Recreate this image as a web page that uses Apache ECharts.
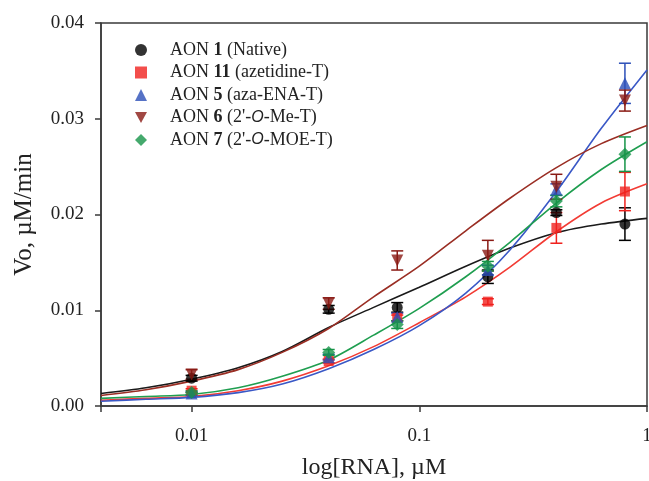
<!DOCTYPE html>
<html>
<head>
<meta charset="utf-8">
<script src="https://cdn.jsdelivr.net/npm/echarts@6/dist/echarts.min.js"></script>
<style>
  html, body { margin: 0; padding: 0; background: #fff; }
  #chart { width: 649px; height: 481px; }
</style>
</head>
<body>
<div id="chart"></div>
<script>
// measured concentrations (uM) and initial velocities (uM/min)
const concentrations = [0.01, 0.04, 0.08, 0.2, 0.4, 0.8];
const aon1 = [0.0029, 0.0101, 0.0103, 0.0135, 0.0202, 0.0190];
const aon1Err = [0.0003, 0.0004, 0.0005, 0.0007, 0.0003, 0.0017];
const aon11 = [0.0016, 0.0047, 0.0092, 0.0109, 0.0186, 0.0224];
const aon11Err = [0.0002, 0.0002, 0.0003, 0.0003, 0.0016, 0.0020];
const aon5 = [0.0013, 0.0051, 0.0093, 0.0142, 0.0226, 0.0337];
const aon5Err = [0.0002, 0.0003, 0.0004, 0.0005, 0.0006, 0.0021];
const aon6 = [0.0033, 0.0107, 0.0152, 0.0157, 0.0229, 0.0319];
const aon6Err = [0.0005, 0.0006, 0.0010, 0.0016, 0.0013, 0.0011];
const aon7 = [0.0014, 0.0056, 0.0085, 0.0146, 0.0214, 0.0263];
const aon7Err = [0.0002, 0.0003, 0.0004, 0.0005, 0.0006, 0.0018];

// fitted curves at 0.2-decade steps
const curveX = [0.004, 0.0063, 0.01, 0.016, 0.025, 0.04, 0.063, 0.1, 0.16, 0.25, 0.4, 0.63, 1];
const fit1 = [0.0013, 0.0019, 0.0028, 0.0040, 0.0057, 0.0082, 0.0103, 0.0124, 0.0146, 0.0165, 0.0181, 0.0190, 0.0196];
const fit11 = [0.0006, 0.0008, 0.0010, 0.0016, 0.0026, 0.0042, 0.0062, 0.0087, 0.0114, 0.0145, 0.0182, 0.0212, 0.0232];
const fit5 = [0.0005, 0.0007, 0.0009, 0.0014, 0.0023, 0.0039, 0.0059, 0.0084, 0.0118, 0.0163, 0.0224, 0.0290, 0.0351];
const fit6 = [0.0011, 0.0017, 0.0026, 0.0038, 0.0056, 0.0081, 0.0114, 0.0146, 0.0183, 0.0217, 0.0249, 0.0274, 0.0293];
const fit7 = [0.0008, 0.0010, 0.0012, 0.0019, 0.0031, 0.0048, 0.0074, 0.0102, 0.0135, 0.0171, 0.0212, 0.0247, 0.0276];

const xTickLabels = ['0.01', '0.1', '1'];

const serif = '"Liberation Serif", "Times New Roman", serif';

const groups = [
  { name: 'AON 1 (Native)', label: '{s|}AON {b|1} (Native)', y: aon1, err: aon1Err, fit: fit1,
    color: '#000000', line: '#1a1a1a', symbol: 'circle', size: 11 },
  { name: 'AON 11 (azetidine-T)', label: '{s|}AON {b|11} (azetidine-T)', y: aon11, err: aon11Err, fit: fit11,
    color: '#f0221e', line: '#f23b34', symbol: 'rect', size: 10 },
  { name: 'AON 5 (aza-ENA-T)', label: '{s|}AON {b|5} (aza-ENA-T)', y: aon5, err: aon5Err, fit: fit5,
    color: '#2c4fb8', line: '#3a58c6', symbol: 'triangle', size: 12 },
  { name: 'AON 6 (2\'-O-Me-T)', label: '{s|}AON {b|6} (2\'-{i|O}-Me-T)', y: aon6, err: aon6Err, fit: fit6,
    color: '#8a1a14', line: '#9a2e24', symbol: 'path://M0,0 L10,0 L5,9 Z', size: 12 },
  { name: 'AON 7 (2\'-O-MOE-T)', label: '{s|}AON {b|7} (2\'-{i|O}-MOE-T)', y: aon7, err: aon7Err, fit: fit7,
    color: '#169448', line: '#1f9e50', symbol: 'diamond', size: 13 }
];

const chart = echarts.init(document.getElementById('chart'), null, { renderer: 'canvas' });

const series = [];

// fitted lines first so markers sit on top
groups.forEach(g => {
  series.push({
    name: g.name + ' fit',
    type: 'line',
    data: curveX.map((x, i) => [x, g.fit[i]]),
    showSymbol: false,
    smooth: 0.3,
    lineStyle: { color: g.line, width: 1.6 },
    silent: true,
    z: 2
  });
});

groups.forEach(g => {
  // error bars
  series.push({
    name: g.name + ' err',
    type: 'custom',
    data: concentrations.map((x, i) => [x, g.y[i], g.err[i]]),
    renderItem: function (params, api) {
      const x = api.value(0), y = api.value(1), e = api.value(2);
      const top = api.coord([x, y + e]);
      const bot = api.coord([x, y - e]);
      const w = 6;
      const style = { stroke: g.color, lineWidth: 1.5 };
      return {
        type: 'group',
        children: [
          { type: 'line', shape: { x1: top[0], y1: top[1], x2: bot[0], y2: bot[1] }, style: style },
          { type: 'line', shape: { x1: top[0] - w, y1: top[1], x2: top[0] + w, y2: top[1] }, style: style },
          { type: 'line', shape: { x1: bot[0] - w, y1: bot[1], x2: bot[0] + w, y2: bot[1] }, style: style }
        ]
      };
    },
    silent: true,
    z: 3
  });
  series.push({
    name: g.name,
    type: 'scatter',
    data: concentrations.map((x, i) => [x, g.y[i]]),
    symbol: g.symbol,
    symbolSize: g.size,
    itemStyle: { color: g.color },
    z: 4
  });
});

const option = {
  animation: false,
  backgroundColor: '#ffffff',
  textStyle: { fontFamily: serif },
  grid: {
    left: 101, right: 2, top: 23, bottom: 75,
    show: true, borderColor: '#3a3a3a', borderWidth: 1.5,
    outerBoundsMode: 'none'
  },
  legend: {
    left: 130,
    top: 35,
    orient: 'vertical',
    itemWidth: 12,
    itemHeight: 12,
    itemGap: 2.5,
    data: groups.map(g => ({ name: g.name, icon: g.symbol })),
    formatter: function (name) {
      const g = groups.find(item => item.name === name);
      return g ? g.label : name;
    },
    textStyle: {
      fontFamily: serif, fontSize: 18, color: '#222', lineHeight: 20,
      rich: {
        s: { width: 18 },
        b: { fontFamily: serif, fontSize: 18, fontWeight: 'bold', color: '#222', lineHeight: 20 },
        i: { fontFamily: '"Liberation Sans", Arial, sans-serif', fontSize: 16, fontStyle: 'italic', color: '#222', lineHeight: 20 }
      }
    }
  },
  xAxis: {
    type: 'log',
    logBase: 10,
    min: 0.004,
    max: 1,
    name: 'log[RNA], \u00b5M',
    nameLocation: 'middle',
    nameGap: 50,
    nameMoveOverlap: false,
    nameTextStyle: { fontFamily: serif, fontSize: 24, color: '#222' },
    axisLine: { lineStyle: { color: '#3a3a3a', width: 1.5 } },
    axisTick: { show: true, length: 6, lineStyle: { color: '#3a3a3a', width: 1.5 } },
    minorTick: { show: false },
    splitLine: { show: false },
    axisLabel: {
      margin: 21,
      fontFamily: serif,
      fontSize: 19,
      color: '#222',
      formatter: function (v) {
        const p = Math.log10(v);
        if (Math.abs(p - Math.round(p)) > 1e-6) return '';
        const idx = Math.round(p) + 2;
        return xTickLabels[idx] !== undefined ? xTickLabels[idx] : '';
      }
    }
  },
  yAxis: {
    type: 'value',
    min: 0,
    max: 0.04,
    interval: 0.01,
    name: 'Vo, \u00b5M/min',
    nameLocation: 'middle',
    nameGap: 64,
    nameMoveOverlap: false,
    nameTextStyle: { fontFamily: serif, fontSize: 25, color: '#222' },
    axisLine: { show: true, lineStyle: { color: '#3a3a3a', width: 1.5 } },
    axisTick: { show: true, length: 6, lineStyle: { color: '#3a3a3a', width: 1.5 } },
    splitLine: { show: false },
    axisLabel: {
      margin: 17,
      fontFamily: serif,
      fontSize: 19,
      color: '#222',
      formatter: function (v) { return v.toFixed(2); }
    }
  },
  series: series
};

chart.setOption(option);
</script>
</body>
</html>
